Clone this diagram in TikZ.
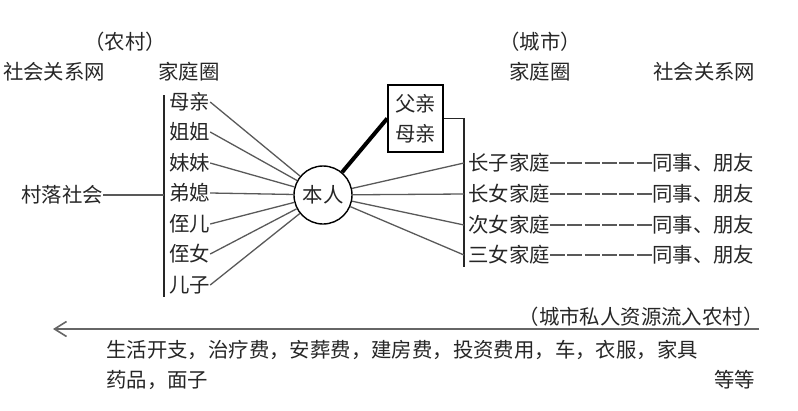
\documentclass[tikz,border=0pt]{standalone}
\usepackage{fontspec}
\setmainfont{Noto Sans CJK SC}
\usetikzlibrary{arrows.meta}

\tikzset{
    txt/.style={inner sep=0pt, text=black!85, font=\fontsize{20.4pt}{30pt}\selectfont},
    tie/.style={draw=black!65, line width=1.3pt},
    bar/.style={draw=black!85, line width=1.2pt},
}

\begin{document}
\begin{tikzpicture}[x=1pt, y=-1pt]
        \useasboundingbox (0,0) rectangle (798,410);
        % headers
        \node[txt] (rural)    at (125,42)          {（农村）};
        \node[txt] (city)     at (540,42)          {（城市）};
        \node[txt, anchor=west] (lnet)  at (3,72)   {社会关系网};
        \node[txt, anchor=west] (lfam)  at (158,72) {家庭圈};
        \node[txt, anchor=west] (rfam)  at (509,72) {家庭圈};
        \node[txt, anchor=west] (rnet)  at (653,72) {社会关系网};

        % myself and parents
        \node[txt, circle, draw, line width=1.4pt, minimum size=58pt] (self) at (323,195) {本人};
        \node[txt, draw, line width=1.6pt, align=center, minimum width=55pt, minimum height=67pt] (parents) at (415.5,118.5) {父亲\\母亲};
        \draw[line width=4pt] (parents.west) -- (self);

        % rural family circle
        \coordinate (lbar top) at (164,95);
        \coordinate (lbar bot) at (164,297);
        \draw[bar] (lbar top) -- (lbar bot);
        \node[txt, anchor=west] (mother)  at (169,102) {母亲};
        \node[txt, anchor=west] (sister)  at (169,132) {姐姐};
        \node[txt, anchor=west] (ysister) at (169,163) {妹妹};
        \node[txt, anchor=west] (inlaw)   at (169,193) {弟媳};
        \node[txt, anchor=west] (nephew)  at (169,224) {侄儿};
        \node[txt, anchor=west] (niece)   at (169,254) {侄女};
        \node[txt, anchor=west] (son)     at (169,285) {儿子};
        \foreach \who in {mother, sister, ysister, inlaw, nephew, niece, son}
            \draw[tie] (\who.east) -- (self);

        % village society
        \node[txt, anchor=east] (village) at (103,195) {村落社会};
        \draw[tie] (village.east) -- (village.east -| lbar top);

        % urban family circle
        \coordinate (rbar top) at (464,118.5);
        \coordinate (rbar bot) at (464,267);
        \draw[bar] (parents.east) -- (rbar top) -- (rbar bot);
        \foreach \fam/\name/\y in {fa/长子家庭/163, fb/长女家庭/194, fc/次女家庭/225, fd/三女家庭/255}{
            \node[txt, anchor=west] (\fam) at (468,\y) {\name};
            \node[txt, anchor=west] (\fam net) at (652,\y) {同事、朋友};
            \draw[tie] (self) -- (\fam.west -| rbar top);
            \draw[tie, dash pattern=on 15pt off 2.3pt] (\fam.east) -- (\fam net.west);
        }

        % resources flowing from city to village
        \node[txt] (flow) at (641,317) {（城市私人资源流入农村）};
        \coordinate (flow start) at (759,329);
        \coordinate (flow end)   at (53,329);
        \draw[draw=black!60, line width=1.6pt, -{Straight Barb[length=12pt, width=15pt]}] (flow start) -- (flow end);
        \node[txt, anchor=west] (costs)  at (106,350) {生活开支，治疗费，安葬费，建房费，投资费用，车，衣服，家具};
        \node[txt, anchor=west] (costs2) at (106,380) {药品，面子};
        \node[txt, anchor=east] (etc)    at (755,380) {等等};
    \end{tikzpicture}
\end{document}
